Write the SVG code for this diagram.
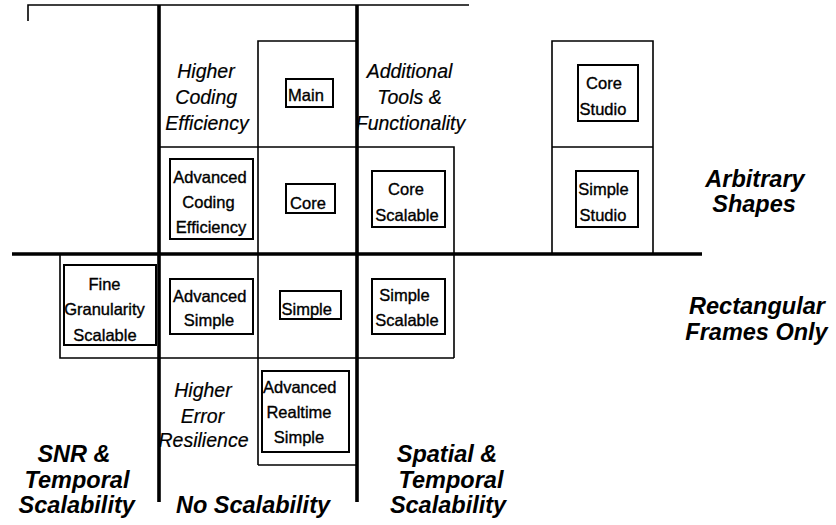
<svg xmlns="http://www.w3.org/2000/svg" width="836" height="525" viewBox="0 0 836 525">
<style>
.thin{stroke:#000;stroke-width:1.6;fill:none}
.thick{stroke:#000;stroke-width:3.6;fill:none}
.box{stroke:#000;stroke-width:2;fill:#fff}
.lbl{font-family:"Liberation Sans",Arial,sans-serif;font-size:16.5px;text-anchor:middle;fill:#000;stroke:#000;stroke-width:0.35}
.it{font-family:"Liberation Sans",Arial,sans-serif;font-size:19.5px;font-style:italic;text-anchor:middle;fill:#000;stroke:#000;stroke-width:0.2}
.bi{font-family:"Liberation Sans",Arial,sans-serif;font-size:23.5px;font-style:italic;font-weight:bold;text-anchor:middle;fill:#000}
</style>
<rect width="836" height="525" fill="#fff"/>
<g id="connectors">
<path class="thin" d="M28,21V5H469"/>
<path class="thin" d="M258,465V41H357"/>
<path class="thin" d="M159,147H454V358"/>
<path class="thin" d="M60,254V358H454"/>
<path class="thin" d="M258,465H357"/>
<path class="thin" d="M552,254V41H653V254M552,147H653"/>
<path class="thick" d="M159,5V502M357,5V502M12,254H702"/>
</g>
<g id="main"><rect class="box" x="286" y="79" width="47" height="28"/><text class="lbl" x="306" y="101">Main</text></g>
<g id="core"><rect class="box" x="286" y="184" width="49" height="29"/><text class="lbl" x="308" y="208.5">Core</text></g>
<g id="core-scalable"><rect class="box" x="372" y="171" width="73" height="56"/><text class="lbl" x="406" y="195">Core</text><text class="lbl" x="407" y="221">Scalable</text></g>
<g id="core-studio"><rect class="box" x="578" y="65" width="60" height="56"/><text class="lbl" x="604" y="89">Core</text><text class="lbl" x="603" y="114.5">Studio</text></g>
<g id="simple-studio"><rect class="box" x="576" y="171" width="62" height="56"/><text class="lbl" x="603.5" y="195">Simple</text><text class="lbl" x="603" y="220.5">Studio</text></g>
<g id="advanced-coding-efficiency"><rect class="box" x="170" y="159" width="83" height="80"/><text class="lbl" x="210" y="183.3">Advanced</text><text class="lbl" x="208.5" y="208.3">Coding</text><text class="lbl" x="211" y="233.3">Efficiency</text></g>
<g id="fine-granularity-scalable"><rect class="box" x="64" y="265" width="92" height="80"/><text class="lbl" x="104.5" y="290.3">Fine</text><text class="lbl" x="104.5" y="315.3">Granularity</text><text class="lbl" x="105" y="341">Scalable</text></g>
<g id="advanced-simple"><rect class="box" x="170" y="279" width="83" height="55"/><text class="lbl" x="209.7" y="301.7">Advanced</text><text class="lbl" x="209" y="326">Simple</text></g>
<g id="simple"><rect class="box" x="280" y="291" width="61" height="28"/><text class="lbl" x="306.7" y="315">Simple</text></g>
<g id="simple-scalable"><rect class="box" x="372" y="279" width="73" height="55"/><text class="lbl" x="404.5" y="301">Simple</text><text class="lbl" x="407" y="326">Scalable</text></g>
<g id="advanced-realtime-simple"><rect class="box" x="262" y="371" width="87" height="81"/><text class="lbl" x="299.7" y="393.3">Advanced</text><text class="lbl" x="299" y="418.3">Realtime</text><text class="lbl" x="299" y="443.3">Simple</text></g>
<g id="higher-coding-efficiency"><text class="it" x="206" y="78.3">Higher</text><text class="it" x="206.2" y="103.8">Coding</text><text class="it" x="207" y="129.8">Efficiency</text></g>
<g id="additional-tools"><text class="it" x="409.5" y="78.3">Additional</text><text class="it" x="409.5" y="104">Tools &amp;</text><text class="it" x="410.5" y="130">Functionality</text></g>
<g id="higher-error-resilience"><text class="it" x="203" y="397">Higher</text><text class="it" x="202.5" y="422.7">Error</text><text class="it" x="203.5" y="447.3">Resilience</text></g>
<g id="snr-temporal"><text class="bi" x="74" y="461.7">SNR &amp;</text><text class="bi" x="77" y="487.5">Temporal</text><text class="bi" x="76.7" y="512.5">Scalability</text></g>
<g id="no-scalability"><text class="bi" x="253" y="513">No Scalability</text></g>
<g id="spatial-temporal"><text class="bi" x="447" y="461.7">Spatial &amp;</text><text class="bi" x="451" y="488">Temporal</text><text class="bi" x="448" y="513">Scalability</text></g>
<g id="arbitrary-shapes"><text class="bi" x="755" y="187">Arbitrary</text><text class="bi" x="754" y="212">Shapes</text></g>
<g id="rectangular-frames"><text class="bi" x="757" y="314">Rectangular</text><text class="bi" x="756.5" y="340">Frames Only</text></g>
</svg>
